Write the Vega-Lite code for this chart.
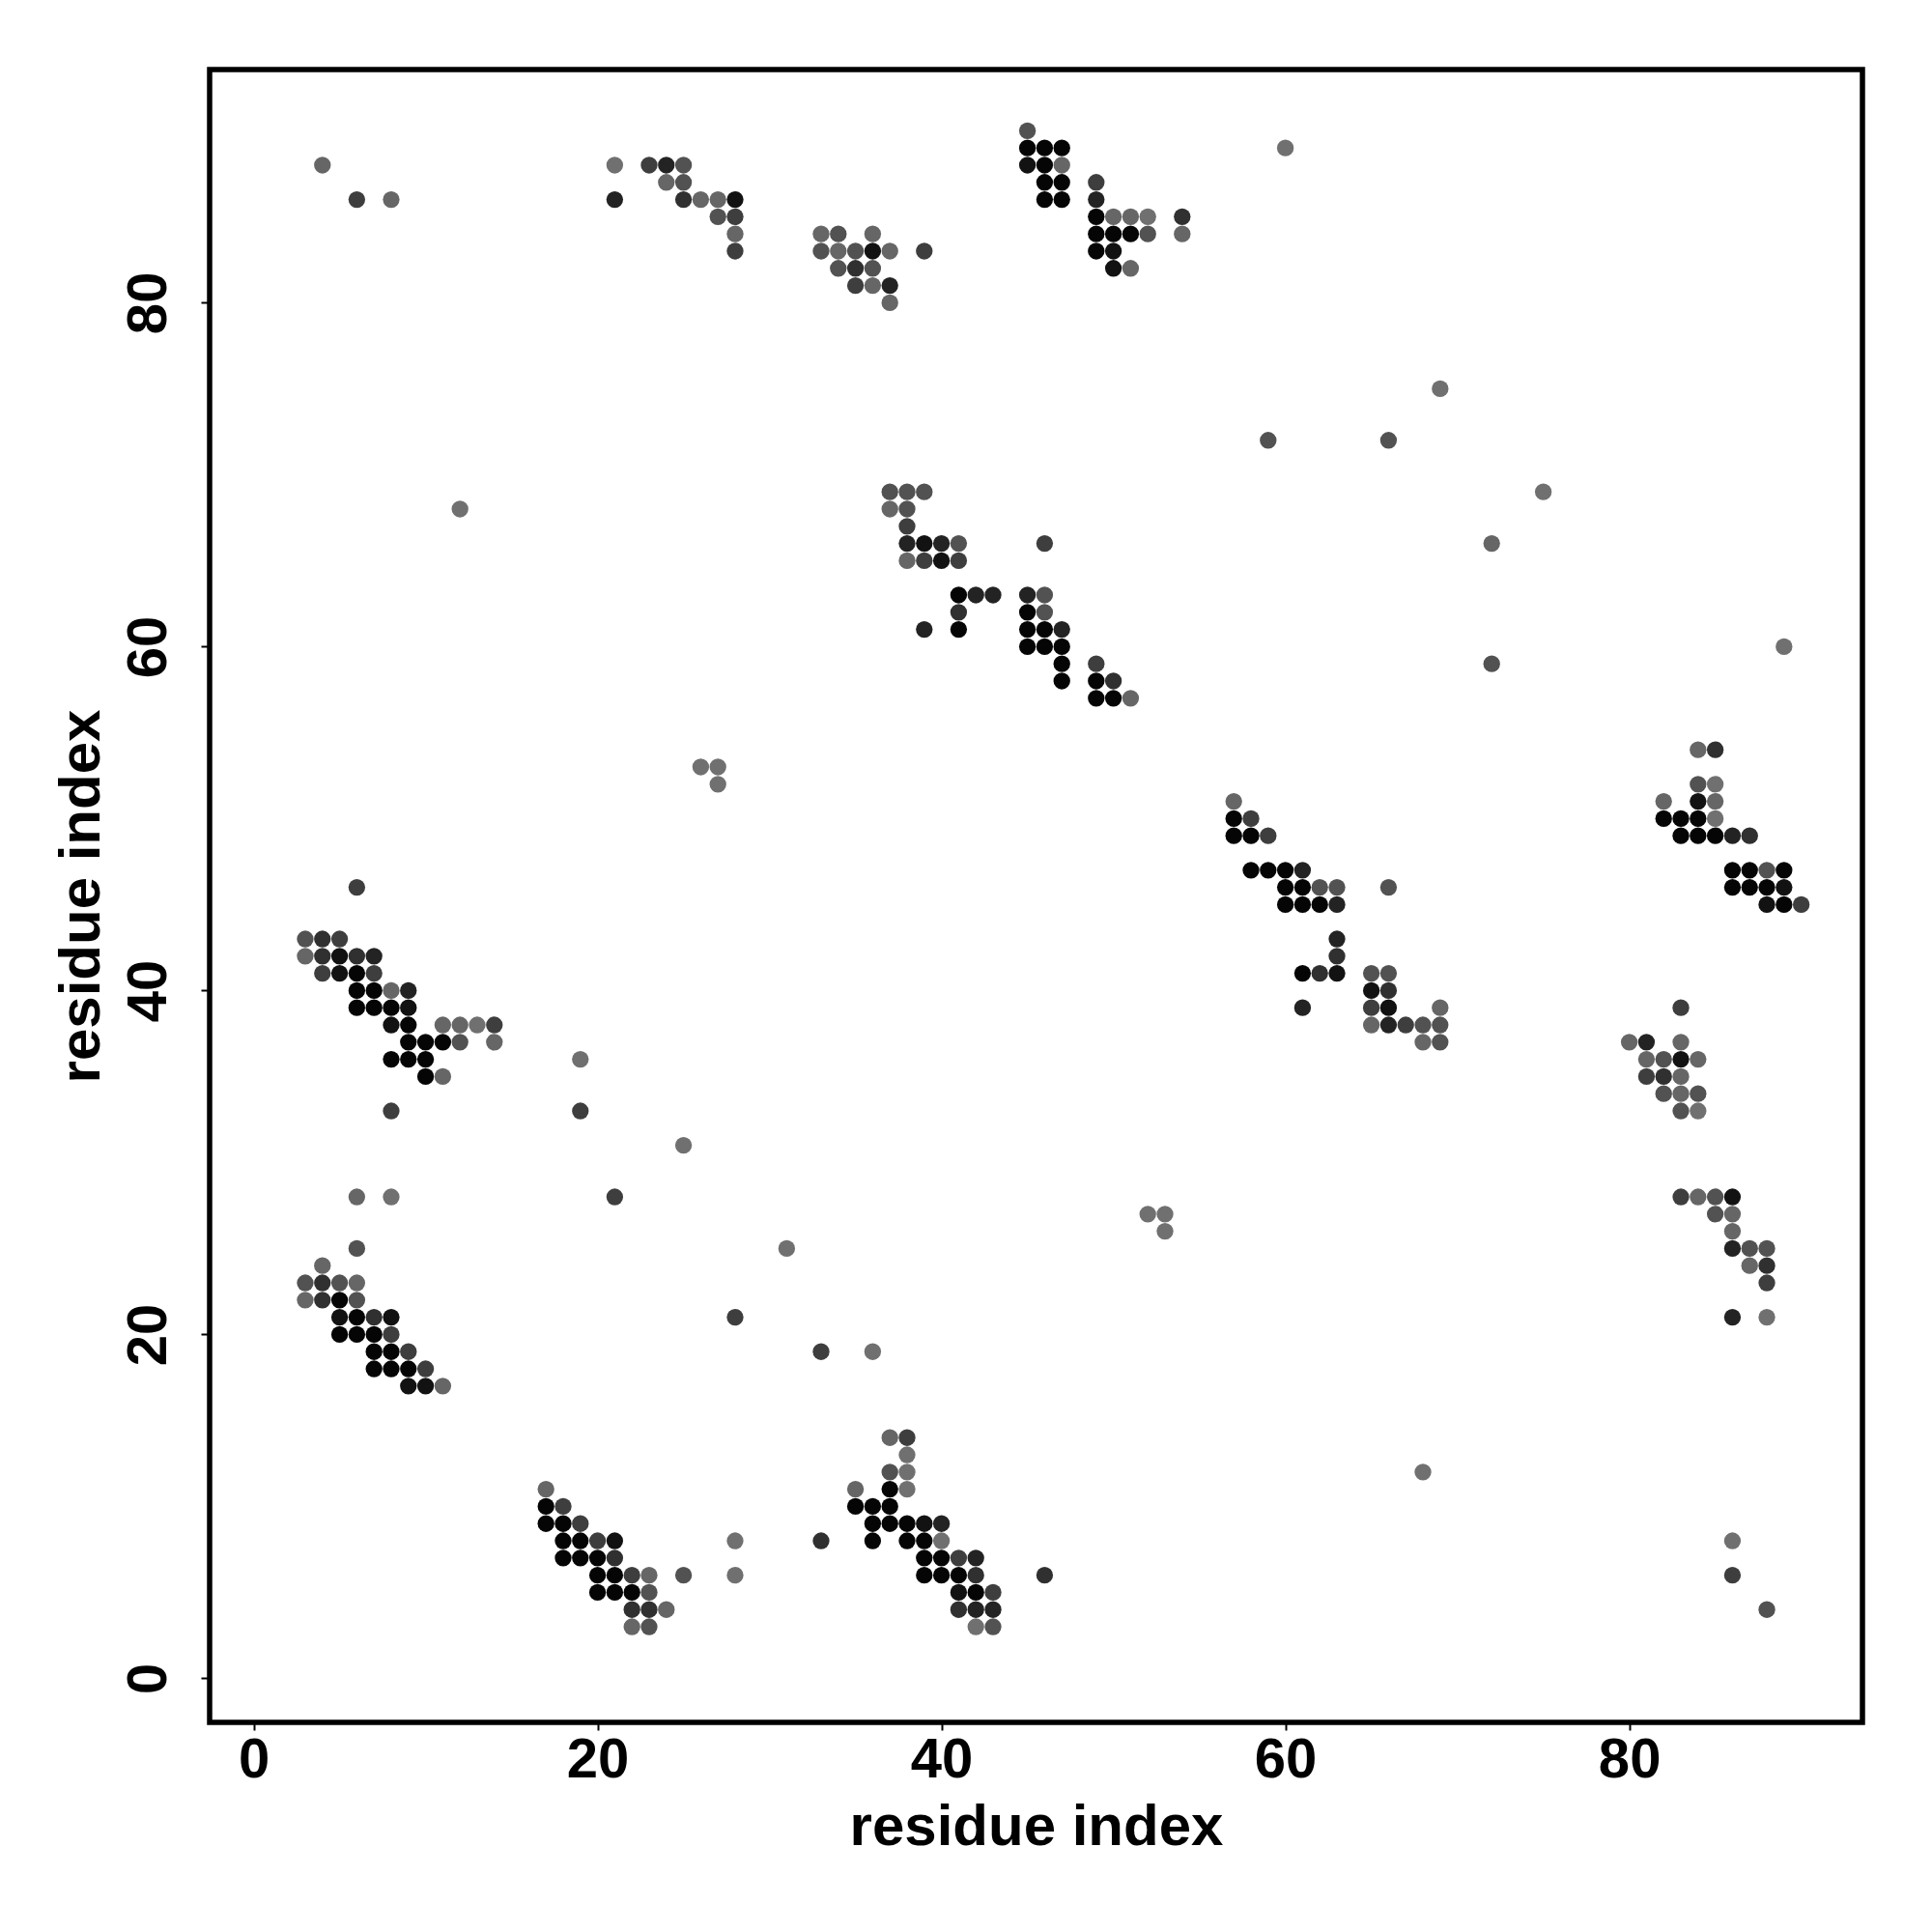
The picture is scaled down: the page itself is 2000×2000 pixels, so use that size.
{
  "$schema": "https://vega.github.io/schema/vega-lite/v6.json",
  "autosize": {"type": "none"},
  "padding": {"left": 217, "top": 72, "right": 72, "bottom": 217},
  "width": 1711,
  "height": 1711,
  "background": "white",
  "config": {
    "view": {"stroke": "black", "strokeWidth": 5.5},
    "axis": {
      "grid": false,
      "domain": false,
      "tickColor": "black",
      "tickWidth": 2,
      "labelColor": "black",
      "labelFont": "Liberation Sans",
      "labelFontWeight": "bold",
      "labelFontSize": 58,
      "titleColor": "black",
      "titleFont": "Liberation Sans",
      "titleFontWeight": "bold",
      "titleFontSize": 60
    }
  },
  "data": {"values": [
    {"x":4,"y":88,"p":0.5},{"x":6,"y":86,"p":0.7},{"x":8,"y":86,"p":0.5},{"x":21,"y":88,"p":0.45},{"x":21,"y":86,"p":0.85},{"x":23,"y":88,"p":0.7},{"x":24,"y":88,"p":0.85},{"x":25,"y":88,"p":0.6},{"x":24,"y":87,"p":0.5},{"x":25,"y":87,"p":0.6},{"x":25,"y":86,"p":0.78},{"x":26,"y":86,"p":0.5},{"x":27,"y":86,"p":0.5},{"x":28,"y":86,"p":0.95},{"x":27,"y":85,"p":0.6},{"x":28,"y":85,"p":0.7},{"x":28,"y":84,"p":0.5},{"x":28,"y":83,"p":0.7},
    {"x":45,"y":90,"p":0.6},{"x":45,"y":89,"p":1},{"x":46,"y":89,"p":1},{"x":47,"y":89,"p":1},{"x":45,"y":88,"p":0.95},{"x":46,"y":88,"p":1},{"x":47,"y":88,"p":0.5},{"x":46,"y":87,"p":1},{"x":47,"y":87,"p":1},{"x":46,"y":86,"p":1},{"x":47,"y":86,"p":1},{"x":49,"y":87,"p":0.7},{"x":49,"y":86,"p":0.85},{"x":49,"y":85,"p":1},{"x":50,"y":85,"p":0.5},{"x":51,"y":85,"p":0.5},{"x":52,"y":85,"p":0.45},{"x":54,"y":85,"p":0.78},{"x":49,"y":84,"p":1},{"x":50,"y":84,"p":1},{"x":51,"y":84,"p":1},{"x":52,"y":84,"p":0.6},{"x":54,"y":84,"p":0.5},{"x":49,"y":83,"p":1},{"x":50,"y":83,"p":0.95},{"x":50,"y":82,"p":0.95},{"x":51,"y":82,"p":0.5},
    {"x":33,"y":84,"p":0.5},{"x":34,"y":84,"p":0.6},{"x":36,"y":84,"p":0.5},{"x":33,"y":83,"p":0.6},{"x":34,"y":83,"p":0.5},{"x":35,"y":83,"p":0.6},{"x":36,"y":83,"p":0.95},{"x":37,"y":83,"p":0.5},{"x":39,"y":83,"p":0.7},{"x":34,"y":82,"p":0.6},{"x":35,"y":82,"p":0.78},{"x":36,"y":82,"p":0.6},{"x":35,"y":81,"p":0.7},{"x":36,"y":81,"p":0.5},{"x":37,"y":81,"p":0.85},{"x":37,"y":80,"p":0.5},
    {"x":37,"y":69,"p":0.6},{"x":38,"y":69,"p":0.6},{"x":39,"y":69,"p":0.6},{"x":37,"y":68,"p":0.5},{"x":38,"y":68,"p":0.6},{"x":38,"y":67,"p":0.7},{"x":38,"y":66,"p":0.85},{"x":39,"y":66,"p":0.95},{"x":40,"y":66,"p":0.85},{"x":41,"y":66,"p":0.6},{"x":38,"y":65,"p":0.5},{"x":39,"y":65,"p":0.7},{"x":40,"y":65,"p":0.95},{"x":41,"y":65,"p":0.7},{"x":46,"y":66,"p":0.7},{"x":41,"y":63,"p":1},{"x":42,"y":63,"p":0.85},{"x":43,"y":63,"p":0.85},{"x":41,"y":62,"p":0.78},{"x":41,"y":61,"p":1},{"x":39,"y":61,"p":0.85},{"x":45,"y":63,"p":0.85},{"x":46,"y":63,"p":0.6},{"x":45,"y":62,"p":1},{"x":46,"y":62,"p":0.6},{"x":45,"y":61,"p":1},{"x":46,"y":61,"p":1},{"x":47,"y":61,"p":0.85},{"x":45,"y":60,"p":1},{"x":46,"y":60,"p":1},{"x":47,"y":60,"p":1},{"x":47,"y":59,"p":1},{"x":47,"y":58,"p":1},{"x":49,"y":59,"p":0.7},{"x":49,"y":58,"p":1},{"x":50,"y":58,"p":0.78},{"x":49,"y":57,"p":1},{"x":50,"y":57,"p":1},{"x":51,"y":57,"p":0.5},
    {"x":6,"y":46,"p":0.7},{"x":3,"y":43,"p":0.6},{"x":4,"y":43,"p":0.78},{"x":5,"y":43,"p":0.7},{"x":3,"y":42,"p":0.5},{"x":4,"y":42,"p":0.78},{"x":5,"y":42,"p":0.95},{"x":6,"y":42,"p":0.78},{"x":7,"y":42,"p":0.85},{"x":4,"y":41,"p":0.7},{"x":5,"y":41,"p":0.95},{"x":6,"y":41,"p":1},{"x":7,"y":41,"p":0.7},{"x":6,"y":40,"p":1},{"x":7,"y":40,"p":1},{"x":8,"y":40,"p":0.5},{"x":9,"y":40,"p":0.85},{"x":6,"y":39,"p":1},{"x":7,"y":39,"p":1},{"x":8,"y":39,"p":1},{"x":9,"y":39,"p":0.95},{"x":8,"y":38,"p":0.95},{"x":9,"y":38,"p":1},{"x":11,"y":38,"p":0.5},{"x":12,"y":38,"p":0.5},{"x":13,"y":38,"p":0.45},{"x":14,"y":38,"p":0.7},{"x":9,"y":37,"p":1},{"x":10,"y":37,"p":1},{"x":11,"y":37,"p":1},{"x":12,"y":37,"p":0.6},{"x":14,"y":37,"p":0.5},{"x":8,"y":36,"p":1},{"x":9,"y":36,"p":1},{"x":10,"y":36,"p":1},{"x":10,"y":35,"p":1},{"x":11,"y":35,"p":0.5},{"x":8,"y":33,"p":0.7},
    {"x":6,"y":28,"p":0.5},{"x":8,"y":28,"p":0.45},{"x":6,"y":25,"p":0.6},{"x":4,"y":24,"p":0.5},{"x":3,"y":23,"p":0.6},{"x":4,"y":23,"p":0.78},{"x":5,"y":23,"p":0.6},{"x":6,"y":23,"p":0.5},{"x":3,"y":22,"p":0.5},{"x":4,"y":22,"p":0.78},{"x":5,"y":22,"p":1},{"x":6,"y":22,"p":0.6},{"x":5,"y":21,"p":0.95},{"x":6,"y":21,"p":1},{"x":7,"y":21,"p":0.78},{"x":8,"y":21,"p":0.95},{"x":5,"y":20,"p":1},{"x":6,"y":20,"p":1},{"x":7,"y":20,"p":1},{"x":8,"y":20,"p":0.7},{"x":7,"y":19,"p":1},{"x":8,"y":19,"p":1},{"x":9,"y":19,"p":0.7},{"x":7,"y":18,"p":1},{"x":8,"y":18,"p":1},{"x":9,"y":18,"p":1},{"x":10,"y":18,"p":0.7},{"x":9,"y":17,"p":0.95},{"x":10,"y":17,"p":0.95},{"x":11,"y":17,"p":0.5},
    {"x":17,"y":11,"p":0.5},{"x":17,"y":10,"p":1},{"x":18,"y":10,"p":0.7},{"x":17,"y":9,"p":1},{"x":18,"y":9,"p":1},{"x":19,"y":9,"p":0.7},{"x":18,"y":8,"p":1},{"x":19,"y":8,"p":1},{"x":20,"y":8,"p":0.7},{"x":21,"y":8,"p":0.95},{"x":18,"y":7,"p":1},{"x":19,"y":7,"p":1},{"x":20,"y":7,"p":1},{"x":21,"y":7,"p":0.78},{"x":20,"y":6,"p":1},{"x":21,"y":6,"p":1},{"x":22,"y":6,"p":0.7},{"x":23,"y":6,"p":0.5},{"x":25,"y":6,"p":0.6},{"x":20,"y":5,"p":1},{"x":21,"y":5,"p":1},{"x":22,"y":5,"p":1},{"x":23,"y":5,"p":0.6},{"x":22,"y":4,"p":0.78},{"x":23,"y":4,"p":0.78},{"x":24,"y":4,"p":0.5},{"x":22,"y":3,"p":0.5},{"x":23,"y":3,"p":0.6},{"x":28,"y":8,"p":0.45},{"x":28,"y":6,"p":0.45},{"x":33,"y":8,"p":0.78},
    {"x":37,"y":14,"p":0.5},{"x":38,"y":14,"p":0.7},{"x":38,"y":13,"p":0.45},{"x":37,"y":12,"p":0.6},{"x":38,"y":12,"p":0.45},{"x":35,"y":11,"p":0.5},{"x":37,"y":11,"p":1},{"x":38,"y":11,"p":0.45},{"x":35,"y":10,"p":1},{"x":36,"y":10,"p":1},{"x":37,"y":10,"p":1},{"x":36,"y":9,"p":1},{"x":37,"y":9,"p":1},{"x":38,"y":9,"p":1},{"x":39,"y":9,"p":0.95},{"x":40,"y":9,"p":0.85},{"x":36,"y":8,"p":1},{"x":38,"y":8,"p":1},{"x":39,"y":8,"p":1},{"x":40,"y":8,"p":0.45},{"x":39,"y":7,"p":1},{"x":40,"y":7,"p":1},{"x":41,"y":7,"p":0.7},{"x":42,"y":7,"p":0.85},{"x":39,"y":6,"p":1},{"x":40,"y":6,"p":1},{"x":41,"y":6,"p":1},{"x":42,"y":6,"p":0.78},{"x":41,"y":5,"p":0.95},{"x":42,"y":5,"p":1},{"x":43,"y":5,"p":0.7},{"x":41,"y":4,"p":0.78},{"x":42,"y":4,"p":0.85},{"x":43,"y":4,"p":0.85},{"x":42,"y":3,"p":0.45},{"x":43,"y":3,"p":0.6},{"x":46,"y":6,"p":0.78},
    {"x":57,"y":51,"p":0.5},{"x":57,"y":50,"p":1},{"x":58,"y":50,"p":0.7},{"x":57,"y":49,"p":1},{"x":58,"y":49,"p":1},{"x":59,"y":49,"p":0.7},{"x":58,"y":47,"p":1},{"x":59,"y":47,"p":1},{"x":60,"y":47,"p":1},{"x":61,"y":47,"p":0.85},{"x":60,"y":46,"p":1},{"x":61,"y":46,"p":1},{"x":62,"y":46,"p":0.6},{"x":63,"y":46,"p":0.6},{"x":66,"y":46,"p":0.6},{"x":60,"y":45,"p":1},{"x":61,"y":45,"p":1},{"x":62,"y":45,"p":1},{"x":63,"y":45,"p":0.85},{"x":63,"y":43,"p":0.85},{"x":63,"y":42,"p":0.78},{"x":61,"y":41,"p":1},{"x":62,"y":41,"p":0.78},{"x":63,"y":41,"p":0.95},{"x":61,"y":39,"p":0.85},{"x":65,"y":41,"p":0.6},{"x":66,"y":41,"p":0.6},{"x":65,"y":40,"p":0.95},{"x":66,"y":40,"p":0.78},{"x":65,"y":39,"p":0.7},{"x":66,"y":39,"p":0.95},{"x":69,"y":39,"p":0.5},{"x":65,"y":38,"p":0.5},{"x":66,"y":38,"p":0.85},{"x":67,"y":38,"p":0.7},{"x":68,"y":38,"p":0.6},{"x":69,"y":38,"p":0.6},{"x":68,"y":37,"p":0.5},{"x":69,"y":37,"p":0.6},
    {"x":84,"y":54,"p":0.5},{"x":85,"y":54,"p":0.78},{"x":84,"y":52,"p":0.6},{"x":85,"y":52,"p":0.45},{"x":82,"y":51,"p":0.5},{"x":84,"y":51,"p":0.95},{"x":85,"y":51,"p":0.5},{"x":82,"y":50,"p":1},{"x":83,"y":50,"p":1},{"x":84,"y":50,"p":1},{"x":85,"y":50,"p":0.45},{"x":83,"y":49,"p":1},{"x":84,"y":49,"p":1},{"x":85,"y":49,"p":1},{"x":86,"y":49,"p":0.85},{"x":87,"y":49,"p":0.78},{"x":86,"y":47,"p":1},{"x":87,"y":47,"p":1},{"x":88,"y":47,"p":0.6},{"x":89,"y":47,"p":1},{"x":86,"y":46,"p":1},{"x":87,"y":46,"p":1},{"x":88,"y":46,"p":1},{"x":89,"y":46,"p":0.95},{"x":88,"y":45,"p":0.95},{"x":89,"y":45,"p":1},{"x":90,"y":45,"p":0.7},
    {"x":83,"y":39,"p":0.7},{"x":80,"y":37,"p":0.5},{"x":81,"y":37,"p":0.85},{"x":83,"y":37,"p":0.5},{"x":81,"y":36,"p":0.5},{"x":82,"y":36,"p":0.6},{"x":83,"y":36,"p":0.95},{"x":84,"y":36,"p":0.5},{"x":81,"y":35,"p":0.7},{"x":82,"y":35,"p":0.78},{"x":83,"y":35,"p":0.5},{"x":82,"y":34,"p":0.6},{"x":83,"y":34,"p":0.5},{"x":84,"y":34,"p":0.6},{"x":83,"y":33,"p":0.6},{"x":84,"y":33,"p":0.45},{"x":83,"y":28,"p":0.7},{"x":84,"y":28,"p":0.5},{"x":85,"y":28,"p":0.6},{"x":86,"y":28,"p":0.95},{"x":85,"y":27,"p":0.6},{"x":86,"y":27,"p":0.5},{"x":86,"y":26,"p":0.5},{"x":86,"y":25,"p":0.85},{"x":87,"y":25,"p":0.6},{"x":88,"y":25,"p":0.6},{"x":87,"y":24,"p":0.5},{"x":88,"y":24,"p":0.78},{"x":88,"y":23,"p":0.7},{"x":86,"y":21,"p":0.85},{"x":88,"y":21,"p":0.45},
    {"x":60,"y":89,"p":0.45},{"x":69,"y":75,"p":0.45},{"x":59,"y":72,"p":0.6},{"x":66,"y":72,"p":0.6},{"x":75,"y":69,"p":0.45},{"x":12,"y":68,"p":0.45},{"x":72,"y":66,"p":0.5},{"x":89,"y":60,"p":0.45},{"x":72,"y":59,"p":0.6},{"x":26,"y":53,"p":0.45},{"x":27,"y":53,"p":0.45},{"x":27,"y":52,"p":0.45},{"x":19,"y":36,"p":0.45},{"x":19,"y":33,"p":0.7},{"x":25,"y":31,"p":0.45},{"x":21,"y":28,"p":0.7},{"x":52,"y":27,"p":0.45},{"x":53,"y":27,"p":0.45},{"x":53,"y":26,"p":0.45},{"x":31,"y":25,"p":0.45},{"x":28,"y":21,"p":0.7},{"x":33,"y":19,"p":0.7},{"x":36,"y":19,"p":0.45},{"x":68,"y":12,"p":0.45},{"x":86,"y":8,"p":0.45},{"x":86,"y":6,"p":0.7},{"x":88,"y":4,"p":0.6}
  ]},
  "mark": {"type": "circle", "size": 300, "opacity": 1, "strokeWidth": 0},
  "encoding": {
    "x": {
      "field": "x", "type": "quantitative",
      "scale": {"domain": [-2.56, 93.56], "nice": false, "zero": false},
      "axis": {"values": [0, 20, 40, 60, 80], "title": "residue index", "tickSize": 8, "labelPadding": 2, "titleBaseline": "alphabetic", "titleY": 126}
    },
    "y": {
      "field": "y", "type": "quantitative",
      "scale": {"domain": [-2.56, 93.56], "nice": false, "zero": false},
      "axis": {"values": [0, 20, 40, 60, 80], "title": "residue index", "tickSize": 9, "labelAngle": -90, "labelAlign": "center", "labelBaseline": "bottom", "labelPadding": 25, "titleBaseline": "alphabetic", "titleX": -115, "titleAngle": 270}
    },
    "color": {
      "field": "p", "type": "quantitative",
      "scale": {"domain": [0.45, 1], "range": ["#707070", "#050505"]},
      "legend": null
    }
  }
}
